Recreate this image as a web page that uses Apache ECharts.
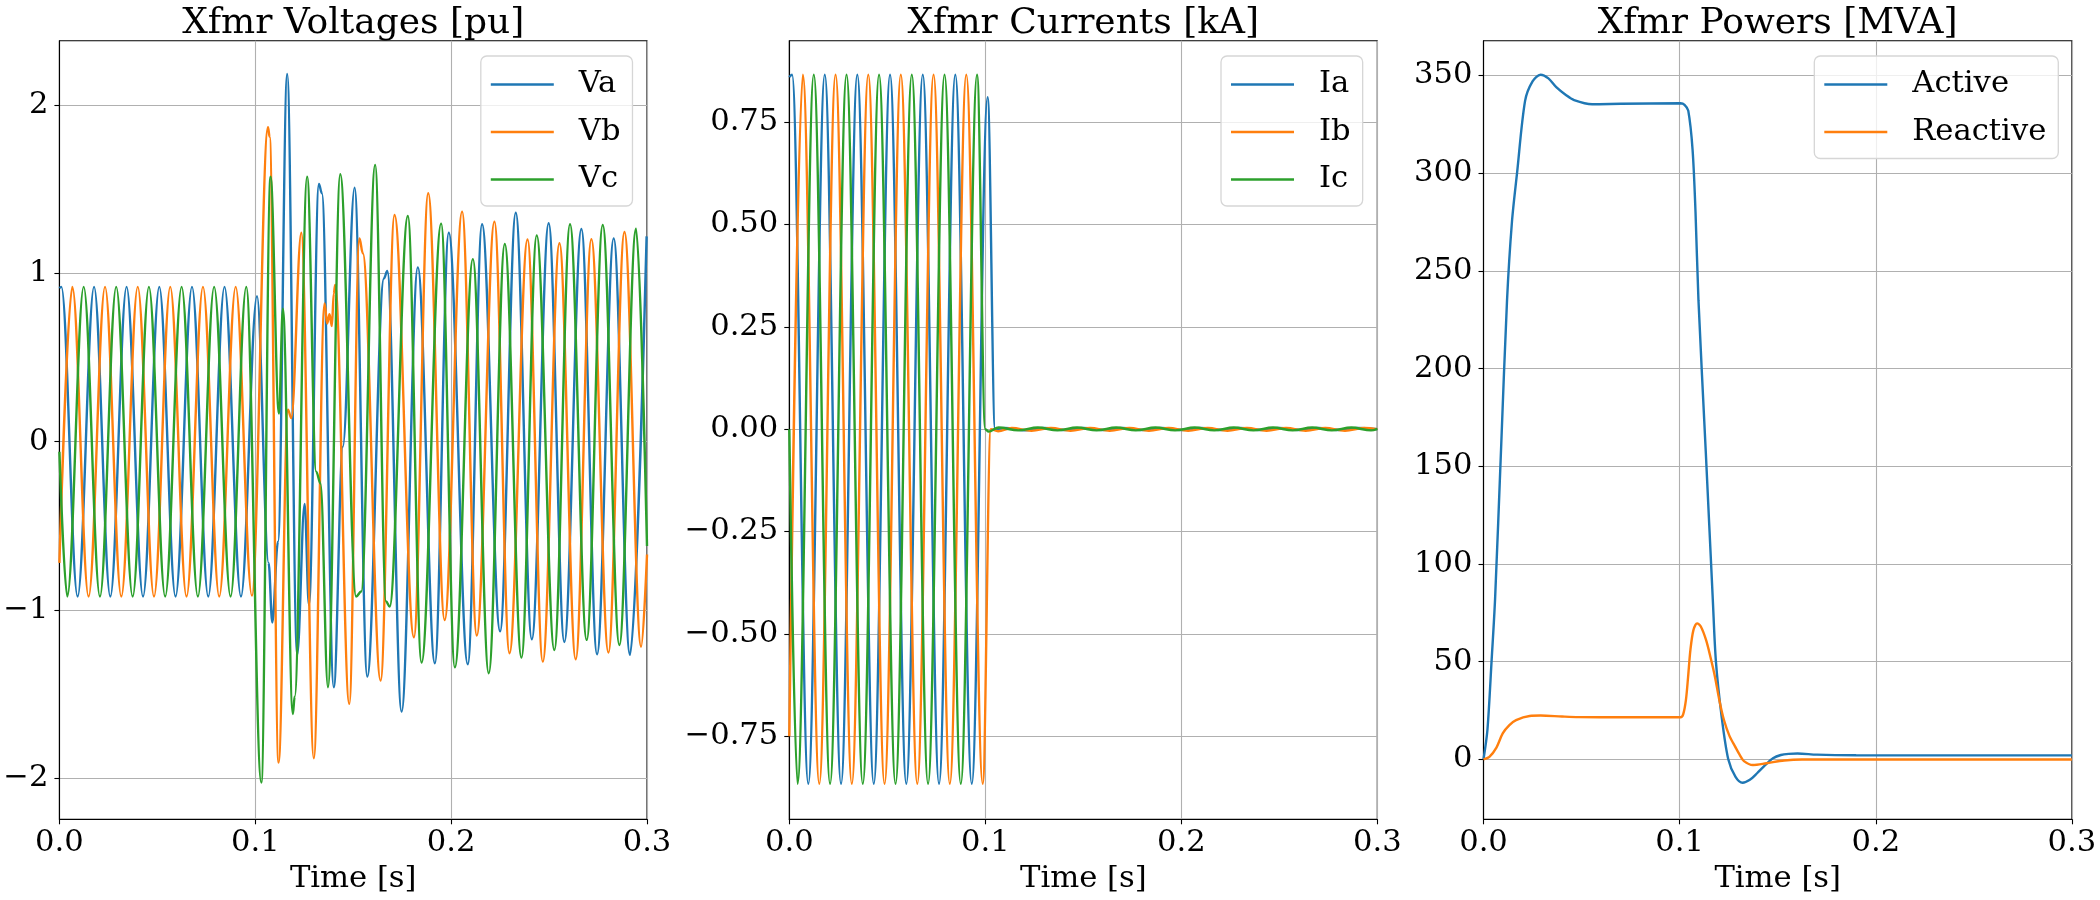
<!DOCTYPE html>
<html>
<head>
<meta charset="utf-8">
<script src="https://cdn.jsdelivr.net/npm/echarts@6/dist/echarts.min.js"></script>
<style>
  html, body { margin: 0; padding: 0; background: #fff; }
  #main { width: 2100px; height: 900px; }
</style>
</head>
<body>
<div id="main"></div>
<script>
// tick labels
var timeTicks = [0, 0.1, 0.2, 0.3];
var voltTicks = [-2, -1, 0, 1, 2];
var currTicks = [-0.75, -0.5, -0.25, 0, 0.25, 0.5, 0.75];
var powTicks = [0, 50, 100, 150, 200, 250, 300, 350];

// voltages [pu], points read at the peaks / troughs of each wave
var vaPts = [[0, 0.913], [0.001, 0.92], [0.0093, -0.92], [0.0177, 0.92], [0.026, -0.92], [0.0343, 0.92], [0.0427, -0.92],
  [0.051, 0.92], [0.0593, -0.92], [0.0677, 0.92], [0.076, -0.92], [0.0843, 0.92], [0.0927, -0.92],
  [0.1009, 0.865], [0.1068, -0.72], [0.1087, -1.075], [0.1116, -0.594], [0.1163, 2.185], [0.1214, -1.267],
  [0.1252, -0.37], [0.1274, -0.97], [0.1325, 1.532], [0.134, 1.476], [0.1401, -1.459], [0.1447, -0.03],
  [0.1507, 1.51], [0.1572, -1.396], [0.1657, 0.97], [0.1674, 1.014], [0.1747, -1.604], [0.183, 1.036],
  [0.1917, -1.317], [0.1988, 1.242], [0.2085, -1.323], [0.2158, 1.292], [0.225, -1.127], [0.233, 1.361],
  [0.2412, -1.174], [0.2498, 1.298], [0.2578, -1.19], [0.2665, 1.264], [0.2745, -1.263], [0.283, 1.208],
  [0.2913, -1.267], [0.2998, 1.22]];
var vbPts = [[0, -0.72], [0.0066, 0.92], [0.0149, -0.92], [0.0233, 0.92], [0.0316, -0.92], [0.04, 0.92], [0.0483, -0.92],
  [0.0566, 0.92], [0.0649, -0.92], [0.0733, 0.92], [0.0816, -0.92], [0.09, 0.92], [0.0983, -0.915],
  [0.1065, 1.869], [0.1073, 1.813], [0.1119, -1.907], [0.1167, 0.19], [0.1184, 0.14], [0.1235, 1.242],
  [0.1299, -1.881], [0.1354, 0.821], [0.1367, 0.702], [0.1379, 0.758], [0.1391, 0.687], [0.1401, 0.881],
  [0.1408, 0.931], [0.148, -1.558], [0.1532, 1.208], [0.1549, 1.12], [0.164, -1.42], [0.1711, 1.347],
  [0.181, -1.162], [0.1883, 1.476], [0.1967, -1.06], [0.2056, 1.367], [0.2131, -1.152], [0.2221, 1.308],
  [0.2298, -1.257], [0.239, 1.202], [0.2468, -1.307], [0.2553, 1.179], [0.2636, -1.293], [0.2716, 1.204],
  [0.2803, -1.253], [0.2885, 1.246], [0.297, -1.218], [0.3, -0.67]];
var vcPts = [[0, -0.06], [0.004, -0.92], [0.0124, 0.92], [0.0207, -0.92], [0.029, 0.92], [0.0374, -0.92], [0.0457, 0.92],
  [0.054, -0.92], [0.0624, 0.92], [0.0707, -0.92], [0.079, 0.92], [0.0874, -0.92], [0.0954, 0.92],
  [0.1031, -2.026], [0.1078, 1.575], [0.1121, 0.167], [0.1141, 0.79], [0.1192, -1.618], [0.1201, -1.515],
  [0.1265, 1.575], [0.1311, -0.178], [0.1333, -0.248], [0.1371, -1.459], [0.1434, 1.589], [0.1515, -0.92],
  [0.1541, -0.89], [0.1612, 1.645], [0.1668, -0.95], [0.1686, -0.98], [0.1779, 1.341], [0.1849, -1.313],
  [0.1949, 1.296], [0.2019, -1.341], [0.2111, 1.085], [0.2192, -1.376], [0.2274, 1.175], [0.2359, -1.283],
  [0.2437, 1.226], [0.2527, -1.238], [0.2607, 1.292], [0.2692, -1.178], [0.2774, 1.288], [0.2859, -1.208],
  [0.2944, 1.266], [0.3, -0.62]];

// currents [kA]
var iaPts = [[0, 0.86], [0.0014, 0.866], [0.0097, -0.866], [0.0181, 0.866], [0.0264, -0.866], [0.0347, 0.866], [0.0431, -0.866],
  [0.0514, 0.866], [0.0597, -0.866], [0.0681, 0.866], [0.0764, -0.866], [0.0847, 0.866], [0.0931, -0.866],
  [0.1012, 0.811], [0.105, 0], [0.11, 0.003], [0.12, -0.003], [0.13, 0.003], [0.14, -0.002], [0.15, 0.003],
  [0.16, -0.002], [0.17, 0.003], [0.18, -0.002], [0.19, 0.003], [0.2, -0.002], [0.21, 0.003], [0.22, -0.002],
  [0.23, 0.003], [0.24, -0.002], [0.25, 0.003], [0.26, -0.002], [0.27, 0.003], [0.28, -0.002], [0.29, 0.003], [0.3, 0]];
var ibPts = [[0, -0.75], [0.0069, 0.866], [0.0153, -0.866], [0.0236, 0.866], [0.0319, -0.866], [0.0403, 0.866], [0.0486, -0.866],
  [0.0569, 0.866], [0.0653, -0.866], [0.0736, 0.866], [0.0819, -0.866], [0.0903, 0.866], [0.0987, -0.866],
  [0.1028, 0], [0.1065, -0.005], [0.1135, 0.003], [0.1235, -0.004], [0.1335, 0.003], [0.1435, -0.004], [0.1535, 0.003],
  [0.1635, -0.004], [0.1735, 0.003], [0.1835, -0.004], [0.1935, 0.003], [0.2035, -0.004], [0.2135, 0.003],
  [0.2235, -0.004], [0.2335, 0.003], [0.2435, -0.004], [0.2535, 0.003], [0.2635, -0.004], [0.2735, 0.003],
  [0.2835, -0.004], [0.2935, 0.003], [0.3, 0]];
var icPts = [[0, 0], [0.0042, -0.866], [0.0125, 0.866], [0.0208, -0.866], [0.0292, 0.866], [0.0375, -0.866], [0.0458, 0.866],
  [0.0542, -0.866], [0.0625, 0.866], [0.0708, -0.866], [0.0792, 0.866], [0.0875, -0.866], [0.0958, 0.866],
  [0.1, 0], [0.1017, -0.006], [0.1068, 0.004], [0.1168, -0.003], [0.1268, 0.004], [0.1368, -0.003], [0.1468, 0.004],
  [0.1568, -0.003], [0.1668, 0.004], [0.1768, -0.003], [0.1868, 0.004], [0.1968, -0.003], [0.2068, 0.004],
  [0.2168, -0.003], [0.2268, 0.004], [0.2368, -0.003], [0.2468, 0.004], [0.2568, -0.003], [0.2668, 0.004],
  [0.2768, -0.003], [0.2868, 0.004], [0.2968, -0.003], [0.3, 0.001]];

// powers [MVA]
var activePts = [[0, 0], [0.002, 15], [0.0041, 50], [0.0059, 82], [0.009, 160], [0.012, 235], [0.0145, 275], [0.0171, 300],
  [0.0212, 337], [0.025, 347], [0.0291, 350.4], [0.0331, 348.5], [0.0371, 344], [0.042, 340], [0.0462, 337.4],
  [0.0554, 335.3], [0.07, 335.5], [0.1005, 335.8], [0.1025, 335], [0.1044, 332], [0.1066, 312], [0.1081, 280],
  [0.1096, 235], [0.1133, 158], [0.1169, 82], [0.1185, 50], [0.1214, 22], [0.1248, 0], [0.1285, -9], [0.1321, -12],
  [0.1358, -10.5], [0.1396, -7], [0.1436, -3], [0.1476, 0.5], [0.1516, 2.2], [0.1556, 2.8], [0.1601, 3],
  [0.17, 2.4], [0.19, 2.1], [0.3, 2.0]];
var reactivePts = [[0, 0], [0.003, 1.3], [0.0066, 6], [0.0098, 13.3], [0.0132, 17.5], [0.0166, 20.1], [0.0235, 22.2],
  [0.0291, 22.4], [0.04, 21.9], [0.0485, 21.6], [0.07, 21.5], [0.1005, 21.5], [0.1018, 23], [0.1032, 30.3],
  [0.1043, 42], [0.1055, 56], [0.107, 66], [0.1089, 69.6], [0.1108, 68], [0.1135, 61], [0.1158, 52], [0.118, 42.3],
  [0.1203, 30], [0.1226, 20.1], [0.1254, 12], [0.1283, 6.5], [0.1305, 2.5], [0.1328, -0.9], [0.1374, -2.9],
  [0.1442, -2], [0.1533, -0.6], [0.1624, -0.1], [0.2, -0.1], [0.3, -0.1]];

var FONT = 'DejaVu Serif';
var BLUE = '#1f77b4', ORANGE = '#ff7f0e', GREEN = '#2ca02c';

function minus(s) { return String(s).replace('-', '\u2212'); }

var gridPos = [
  { left: 59.4, top: 40.7, width: 587.6, height: 778.6 },
  { left: 789.3, top: 40.7, width: 588, height: 778.6 },
  { left: 1483.5, top: 40.7, width: 588.4, height: 778.6 }
];

function xAxisFor(i) {
  return {
    type: 'value', gridIndex: i, min: 0, max: 0.3,
    name: 'Time [s]', nameLocation: 'middle', nameGap: 44,
    nameTextStyle: { fontFamily: FONT, fontSize: 30.6, color: '#000' },
    axisLine: { show: true, onZero: false, lineStyle: { color: '#000', width: 1.1 } },
    axisTick: { show: true, length: 5, lineStyle: { color: '#000', width: 1.1 }, customValues: timeTicks },
    axisLabel: { fontFamily: FONT, fontSize: 30.6, color: '#000', margin: 8, customValues: timeTicks,
      formatter: function (v) { return v.toFixed(1); } },
    splitLine: { show: true, lineStyle: { color: '#b0b0b0', width: 1.1 } }
  };
}

function yAxisFor(i, min, max, ticks, fmt) {
  return {
    type: 'value', gridIndex: i, min: min, max: max,
    axisLine: { show: true, onZero: false, lineStyle: { color: '#000', width: 1.1 } },
    axisTick: { show: true, length: 5, lineStyle: { color: '#000', width: 1.1 }, customValues: ticks },
    axisLabel: { fontFamily: FONT, fontSize: 30.6, color: '#000', margin: 11, customValues: ticks, formatter: fmt },
    splitLine: { show: true, lineStyle: { color: '#b0b0b0', width: 1.1 } }
  };
}

function wave(name, pts, color, axis) {
  return {
    name: name, type: 'line', data: pts, xAxisIndex: axis, yAxisIndex: axis,
    symbol: 'none', smooth: 0.36, smoothMonotone: 'x',
    lineStyle: { color: color, width: 2.4 }, itemStyle: { color: color }
  };
}

function curve(name, pts, color) {
  return {
    name: name, type: 'line', data: pts, xAxisIndex: 2, yAxisIndex: 2,
    symbol: 'none', smooth: 0.3,
    lineStyle: { color: color, width: 2.4 }, itemStyle: { color: color }
  };
}

function legendFor(names, left) {
  return {
    data: names, orient: 'vertical', left: left, top: 56,
    icon: 'rect', itemWidth: 63, itemHeight: 2.5, itemGap: 16.5,
    padding: [13, 12, 11, 10],
    backgroundColor: 'rgba(255,255,255,0.8)',
    borderColor: '#d6d6d6', borderWidth: 1.3, borderRadius: 6,
    selectedMode: false,
    textStyle: { fontFamily: FONT, fontSize: 30.6, color: '#000', lineHeight: 30, padding: [0, 0, 0, 20] }
  };
}

function titleFor(text, center) {
  return {
    text: text, left: center, top: 6, textAlign: 'center', padding: 0,
    textStyle: { fontFamily: FONT, fontSize: 36, fontWeight: 'normal', color: '#000' }
  };
}

var option = {
  animation: false,
  backgroundColor: '#fff',
  textStyle: { fontFamily: FONT },
  title: [
    titleFor('Xfmr Voltages [pu]', 353.2),
    titleFor('Xfmr Currents [kA]', 1083.3),
    titleFor('Xfmr Powers [MVA]', 1777.7)
  ],
  grid: gridPos.map(function (g) {
    return { left: g.left, top: g.top, width: g.width, height: g.height,
      show: true, borderColor: '#000', borderWidth: 1.1, containLabel: false };
  }),
  xAxis: [xAxisFor(0), xAxisFor(1), xAxisFor(2)],
  yAxis: [
    yAxisFor(0, -2.244, 2.383, voltTicks, function (v) { return minus(v); }),
    yAxisFor(1, -0.953, 0.949, currTicks, function (v) { return minus(v.toFixed(2)); }),
    yAxisFor(2, -30.7, 367.8, powTicks, function (v) { return minus(v); })
  ],
  legend: [
    legendFor(['Va', 'Vb', 'Vc'], 480.8),
    legendFor(['Ia', 'Ib', 'Ic'], 1221),
    legendFor(['Active', 'Reactive'], 1814.3)
  ],
  series: [
    wave('Va', vaPts, BLUE, 0),
    wave('Vb', vbPts, ORANGE, 0),
    wave('Vc', vcPts, GREEN, 0),
    wave('Ia', iaPts, BLUE, 1),
    wave('Ib', ibPts, ORANGE, 1),
    wave('Ic', icPts, GREEN, 1),
    curve('Active', activePts, BLUE),
    curve('Reactive', reactivePts, ORANGE)
  ]
};

var chart = echarts.init(document.getElementById('main'), null, { renderer: 'canvas' });
chart.setOption(option);
</script>
</body>
</html>
